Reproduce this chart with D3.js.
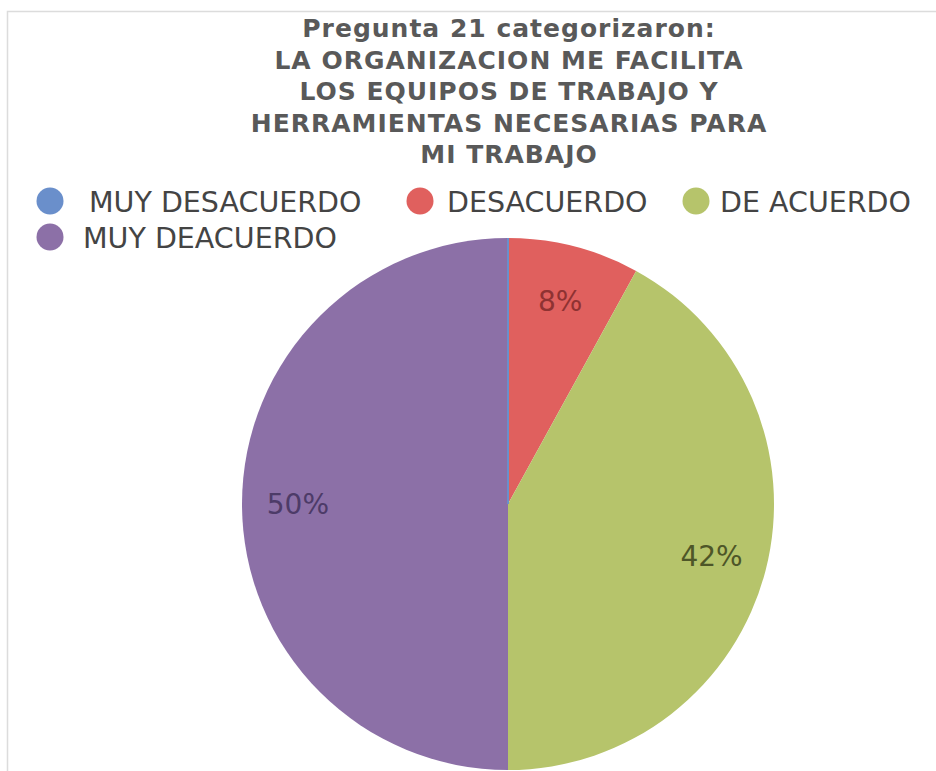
<!DOCTYPE html>
<html>
<head>
<meta charset="utf-8">
<script src="https://cdn.jsdelivr.net/npm/d3@7/dist/d3.min.js"></script>
<style>
  html, body { margin: 0; padding: 0; background: #fff; }
  svg { display: block; }
</style>
</head>
<body>
<svg id="chart" width="936" height="771"></svg>
<script>
// Survey answers for question 21
const categories = ["MUY DESACUERDO", "DESACUERDO", "DE ACUERDO", "MUY DEACUERDO"];
const shares = [0, 8, 42, 50];
const sliceColors = ["#6a8fcb", "#e0605e", "#b6c46b", "#8c70a7"];
const labelColors = ["#3b5578", "#8f3232", "#4e5628", "#4d3b68"];
const titleLines = [
  "Pregunta 21 categorizaron:",
  "LA ORGANIZACION ME FACILITA",
  "LOS EQUIPOS DE TRABAJO Y",
  "HERRAMIENTAS NECESARIAS PARA",
  "MI TRABAJO"
];

const svg = d3.select("#chart");
const W = 936, H = 771;

// light frame around the chart area
svg.append("rect")
  .attr("x", 7.5).attr("y", 11.5)
  .attr("width", W + 20).attr("height", H + 20)
  .attr("fill", "#fff")
  .attr("stroke", "#dcdcdc")
  .attr("stroke-width", 1.5);

// title
svg.append("text")
  .attr("text-anchor", "middle")
  .attr("font-family", "'DejaVu Sans', Verdana, sans-serif")
  .attr("font-weight", "bold")
  .attr("font-size", 25)
  .attr("letter-spacing", 1)
  .attr("fill", "#595959")
  .selectAll("tspan")
  .data(titleLines)
  .join("tspan")
  .attr("x", 509)
  .attr("y", (d, i) => 37 + i * 31.6)
  .text(d => d);

// legend
const legendPos = [
  { cx: 50, cy: 201, tx: 89 },
  { cx: 420, cy: 201, tx: 447 },
  { cx: 696, cy: 201, tx: 720 },
  { cx: 50, cy: 237, tx: 83 }
];
const legend = svg.append("g")
  .selectAll("g")
  .data(categories)
  .join("g");
legend.append("circle")
  .attr("cx", (d, i) => legendPos[i].cx)
  .attr("cy", (d, i) => legendPos[i].cy)
  .attr("r", 13.5)
  .attr("fill", (d, i) => sliceColors[i]);
legend.append("text")
  .attr("x", (d, i) => legendPos[i].tx)
  .attr("y", (d, i) => legendPos[i].cy + 11)
  .attr("font-family", "'DejaVu Sans', Verdana, sans-serif")
  .attr("font-size", 28.5)
  .attr("fill", "#444")
  .text(d => d);

// pie
const cx = 508, cy = 504, R = 266;
const pie = d3.pie().sort(null).value(d => d)(shares);
const arc = d3.arc().innerRadius(0).outerRadius(R);
const labelArc = d3.arc().innerRadius(R * 0.79).outerRadius(R * 0.79);

const g = svg.append("g").attr("transform", `translate(${cx},${cy})`);
// zero-value slices are drawn last so their edge line stays visible
const ordered = pie.slice().sort((a, b) => (a.value === 0) - (b.value === 0));
g.selectAll("path")
  .data(ordered)
  .join("path")
  .attr("d", arc)
  .attr("fill", d => sliceColors[d.index])
  .attr("stroke", d => d.value === 0 ? sliceColors[d.index] : "none")
  .attr("stroke-width", 2);

g.selectAll("text")
  .data(pie.filter(d => d.value > 0))
  .join("text")
  .attr("transform", d => `translate(${labelArc.centroid(d)})`)
  .attr("text-anchor", "middle")
  .attr("dy", "0.36em")
  .attr("font-family", "'DejaVu Sans', Verdana, sans-serif")
  .attr("font-size", 28)
  .attr("fill", d => labelColors[d.index])
  .text(d => d.value + "%");
</script>
</body>
</html>
